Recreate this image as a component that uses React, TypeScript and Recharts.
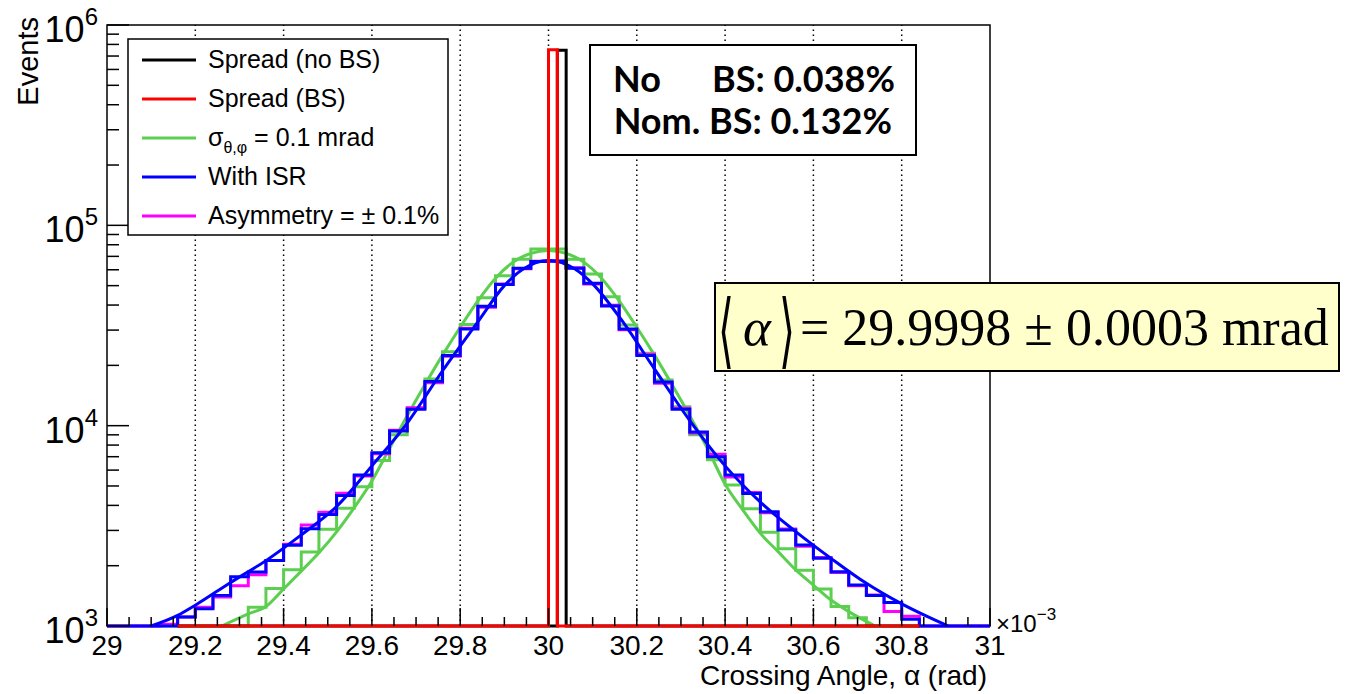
import React from 'react';
import { LineChart, Line, XAxis, YAxis, ReferenceLine } from 'recharts';

const W = 1347;
const H = 694;

// bin left edges (x 10^-3 rad), 0.04 wide, last entry closes the range
const binEdges = [
  29.00, 29.04, 29.08, 29.12, 29.16, 29.20, 29.24, 29.28, 29.32, 29.36,
  29.40, 29.44, 29.48, 29.52, 29.56, 29.60, 29.64, 29.68, 29.72, 29.76,
  29.80, 29.84, 29.88, 29.92, 29.96, 30.00, 30.04, 30.08, 30.12, 30.16,
  30.20, 30.24, 30.28, 30.32, 30.36, 30.40, 30.44, 30.48, 30.52, 30.56,
  30.60, 30.64, 30.68, 30.72, 30.76, 30.80, 30.84, 30.88, 30.92, 30.96, 31.00,
];

// sigma = 0.1 mrad histogram
const greenCounts = [
  0, 0, 0, 0, 0, 0, 0, 0, 1240, 1540,
  1910, 2340, 3040, 3870, 4960, 6700, 9000, 12200, 17100, 23400,
  32000, 43500, 56000, 67700, 76200, 76200, 67700, 57200, 44000, 31850,
  23000, 16900, 12440, 9000, 6750, 5060, 3850, 2940, 2430, 1900,
  1530, 1250, 1100, 0, 0, 0, 0, 0, 0, 0,
];

// with ISR
const blueCounts = [
  0, 0, 0, 0, 1110, 1220, 1420, 1760, 1860, 2120,
  2530, 3060, 3600, 4480, 5680, 7320, 9400, 12080, 16590, 22400,
  30400, 39400, 50600, 61100, 65900, 66400, 61100, 51400, 39600, 30400,
  22400, 16500, 12080, 9310, 7000, 5670, 4590, 3720, 3015, 2535,
  2176, 1867, 1602, 1420, 1310, 1080, 0, 0, 0, 0,
];

// asymmetry = +-0.1%
const magentaCounts = [
  0, 0, 0, 1020, 1110, 1240, 1395, 1590, 1800, 2120,
  2560, 3190, 3700, 4600, 5600, 7250, 9500, 12300, 16400, 22200,
  30600, 39000, 50900, 60700, 66200, 66100, 61500, 51000, 39900, 30100,
  22700, 16300, 12200, 9200, 7200, 5550, 4640, 3680, 3050, 2500,
  2200, 1850, 1590, 1430, 1180, 1120, 0, 0, 0, 0,
];

// narrow spreads (no ISR)
const redX = [29.16, 30.00, 30.02, 30.84];
const redY = [0, 752000, 0, 0];
const blackX = [29.16, 30.02, 30.04, 30.84];
const blackY = [0, 748000, 0, 0];

// fitted curves
const greenFitX = [29.26, 29.32, 29.36, 29.40, 29.44, 29.48, 29.52, 29.56, 29.60, 29.64, 29.68, 29.72, 29.76, 29.80, 29.84, 29.88, 29.92, 29.96, 30.00,
  30.04, 30.08, 30.12, 30.16, 30.20, 30.24, 30.28, 30.32, 30.36, 30.40, 30.44, 30.48, 30.52, 30.56, 30.60, 30.64, 30.68, 30.74];
const greenFitY = [1000, 1150, 1250, 1530, 1880, 2320, 2950, 3900, 5300, 7700, 11200, 16000, 22500, 31000, 42000, 54500, 65500, 72500, 74800,
  72500, 65500, 54500, 42000, 31000, 22500, 16000, 11200, 7700, 5100, 3800, 2900, 2350, 1905, 1600, 1348, 1180, 1000];

const blueFitX = [29.10, 29.16, 29.20, 29.28, 29.36, 29.44, 29.52, 29.60, 29.68, 29.76, 29.84, 29.90, 29.94, 30.00,
  30.06, 30.10, 30.16, 30.24, 30.32, 30.40, 30.48, 30.56, 30.64, 30.72, 30.80, 30.86, 30.905];
const blueFitY = [1000, 1130, 1270, 1650, 2120, 2850, 3950, 6300, 10300, 18800, 33000, 50000, 60000, 66800,
  60500, 51000, 35000, 19200, 10600, 6300, 4150, 2960, 2176, 1633, 1290, 1110, 1000];

const xMajorTicks = [29, 29.2, 29.4, 29.6, 29.8, 30, 30.2, 30.4, 30.6, 30.8, 31];
const xTickLabels = ['29', '29.2', '29.4', '29.6', '29.8', '30', '30.2', '30.4', '30.6', '30.8', '31'];
const yMajorTicks = [1000, 10000, 100000, 1000000];
const yTickExps = ['3', '4', '5', '6'];

const legendItems = [
  { name: 'Spread (no BS)', color: '#000000' },
  { name: 'Spread (BS)', color: '#ff0000' },
  { name: 'sigma', color: '#5ccf50' },
  { name: 'With ISR', color: '#0000ff' },
  { name: 'Asymmetry = \u00b1 0.1%', color: '#ff00ff' },
];

const FLOOR = 1000;
const floorIt = (v: number) => (v < FLOOR ? FLOOR : v);

const histTable = (counts: number[]) =>
  binEdges.map((x, i) => ({ x, y: floorIt(counts[Math.min(i, counts.length - 1)]) }));
const pairTable = (xs: number[], ys: number[]) => xs.map((x, i) => ({ x, y: floorIt(ys[i]) }));

const greenData = histTable(greenCounts);
const blueData = histTable(blueCounts);
const magentaData = histTable(magentaCounts);
const redData = pairTable(redX, redY);
const blackData = pairTable(blackX, blackY);
const greenFit = pairTable(greenFitX, greenFitY);
const blueFit = pairTable(blueFitX, blueFitY);

// minor ticks every 0.05 and decade subdivisions
const xTicks: number[] = [];
for (let k = 0; k <= 40; k++) xTicks.push(Math.round((29 + k * 0.05) * 100) / 100);
const yTicks: number[] = [];
for (let e = 3; e < 6; e++) for (let m = 1; m < 10; m++) yTicks.push(m * Math.pow(10, e));
yTicks.push(1000000);

const near = (a: number, b: number) => Math.abs(a - b) < 1e-6 * Math.max(1, Math.abs(b));

const sans = 'Liberation Sans, Arial, sans-serif';
const serif = 'Liberation Serif, Times New Roman, serif';

const XTick = (props: any) => {
  const { x, y, payload } = props;
  const i = xMajorTicks.findIndex((t) => near(t, payload.value));
  const major = i >= 0;
  return (
    <g>
      <line x1={x} y1={y} x2={x} y2={y - (major ? 18 : 9)} stroke="#000" strokeWidth={1.5} />
      {major && (
        <text x={x} y={y + 29} textAnchor="middle" fontSize={28} fontFamily={sans} fill="#000">
          {xTickLabels[i]}
        </text>
      )}
    </g>
  );
};

const YTick = (props: any) => {
  const { x, y, payload } = props;
  const i = yMajorTicks.findIndex((t) => near(t, payload.value));
  const major = i >= 0;
  return (
    <g>
      <line x1={x} y1={y} x2={x + (major ? 22 : 12)} y2={y} stroke="#000" strokeWidth={1.5} />
      {major && (
        <text x={x - 9} y={y + 17} textAnchor="end" fontSize={36} fontFamily={sans} fill="#000">
          10
          <tspan dy={-17} fontSize={24}>{yTickExps[i]}</tspan>
        </text>
      )}
    </g>
  );
};

export default function App() {
  return (
    <div style={{ position: 'absolute', left: 0, top: 0, width: W, height: H, background: '#fff' }}>
      {/* frame behind the histograms */}
      <svg width={W} height={H} style={{ position: 'absolute', left: 0, top: 0 }}>
        <rect x={107} y={25} width={883} height={601} fill="none" stroke="#000" strokeWidth={1.5} />
      </svg>

      <div style={{ position: 'absolute', left: 0, top: 0 }}>
        <LineChart width={W} height={H} margin={{ top: 25, right: 357, bottom: 0, left: 0 }}>
          <XAxis
            type="number"
            dataKey="x"
            domain={[29, 31]}
            ticks={xTicks}
            interval={0}
            tick={<XTick />}
            tickLine={false}
            tickSize={0}
            tickMargin={0}
            height={68}
            axisLine={false}
          />
          <YAxis
            type="number"
            dataKey="y"
            scale="log"
            domain={[1000, 1000000]}
            ticks={yTicks}
            interval={0}
            tick={<YTick />}
            tickLine={false}
            tickSize={0}
            tickMargin={0}
            width={107}
            axisLine={false}
          />
          {xMajorTicks.slice(1, -1).map((t) => (
            <ReferenceLine key={t} x={t} stroke="#000" strokeWidth={1.5} strokeDasharray="1.5 3.5" />
          ))}

          <Line data={greenData} dataKey="y" type="stepAfter" stroke="#5ccf50" strokeWidth={3} dot={false} isAnimationActive={false} />
          <Line data={greenFit} dataKey="y" type="monotone" stroke="#5ccf50" strokeWidth={3} dot={false} isAnimationActive={false} />
          <Line data={magentaData} dataKey="y" type="stepAfter" stroke="#ff00ff" strokeWidth={3} dot={false} isAnimationActive={false} />
          <Line data={blueData} dataKey="y" type="stepAfter" stroke="#0000ff" strokeWidth={3} dot={false} isAnimationActive={false} />
          <Line data={blueFit} dataKey="y" type="monotone" stroke="#0000ff" strokeWidth={3} dot={false} isAnimationActive={false} />
          <Line data={blackData} dataKey="y" type="stepAfter" stroke="#000000" strokeWidth={3} dot={false} isAnimationActive={false} />
          <Line data={redData} dataKey="y" type="stepAfter" stroke="#ff0000" strokeWidth={3} dot={false} isAnimationActive={false} />
        </LineChart>
      </div>

      <svg width={W} height={H} style={{ position: 'absolute', left: 0, top: 0, pointerEvents: 'none' }}>
        {/* axis titles */}
        <text transform="translate(38,17) rotate(-90)" textAnchor="end" fontSize={29} fontFamily={sans}>Events</text>
        <text x={987} y={685} textAnchor="end" fontSize={28} fontFamily={sans}>Crossing Angle, {'\u03b1'} (rad)</text>
        <text x={996} y={632} fontSize={24} fontFamily={sans}>
          {'\u00d710'}
          <tspan dy={-12} fontSize={17}>{'\u22123'}</tspan>
        </text>

        {/* legend */}
        <rect x={128} y={39} width={320} height={196} fill="#fff" stroke="#000" strokeWidth={1.5} />
        {legendItems.map((it, i) => {
          const cy = 60 + i * 39;
          return (
            <g key={it.name}>
              <line x1={142} x2={196} y1={cy} y2={cy} stroke={it.color} strokeWidth={3} />
              {it.name === 'sigma' ? (
                <text x={208} y={cy + 8} fontSize={25} fontFamily={sans}>
                  {'\u03c3'}
                  <tspan dy={7} fontSize={16}>{'\u03b8,\u03c6'}</tspan>
                  <tspan dy={-7}>{' = 0.1 mrad'}</tspan>
                </text>
              ) : (
                <text x={208} y={cy + 8} fontSize={25} fontFamily={sans}>{it.name}</text>
              )}
            </g>
          );
        })}

        {/* BS fraction box */}
        <rect x={590} y={45} width={326} height={110} fill="#fff" stroke="#000" strokeWidth={2} />
        <text x={613} y={92} fontSize={36} fontWeight="bold" fontFamily="Lato, Open Sans, sans-serif">No</text>
        <text x={895} y={92} textAnchor="end" fontSize={36} fontWeight="bold" fontFamily="Lato, Open Sans, sans-serif">BS: 0.038%</text>
        <text x={892} y={134} textAnchor="end" fontSize={36} fontWeight="bold" fontFamily="Lato, Open Sans, sans-serif">Nom. BS: 0.132%</text>

        {/* mean crossing angle */}
        <rect x={715} y={283} width={624} height={88} fill="#ffffcc" stroke="#000" strokeWidth={2} />
        <text x={718} y={358} fontSize={82} fontFamily="DejaVu Serif, serif" transform="translate(718,358) scale(0.5,1) translate(-718,-358)">{'\u27e8'}</text>
        <text x={743} y={345} fontSize={53} fontStyle="italic" fontFamily={serif}>{'\u03b1'}</text>
        <text x={779} y={358} fontSize={82} fontFamily="DejaVu Serif, serif" transform="translate(779,358) scale(0.5,1) translate(-779,-358)">{'\u27e9'}</text>
        <text x={800} y={345} fontSize={52} fontFamily={serif}>= 29.9998 {'\u00b1'} 0.0003 mrad</text>
      </svg>
    </div>
  );
}
